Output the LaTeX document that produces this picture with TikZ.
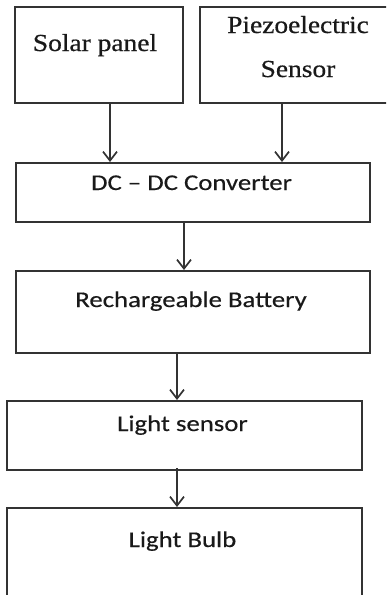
\documentclass[tikz,border=0pt]{standalone}
\usepackage{fontspec}
\setmainfont{Liberation Serif}
\newfontfamily\blockserif[FakeStretch=1.12, FakeBold=0.6]{Liberation Serif}
\newfontfamily\blocksans[FakeStretch=1.19, FakeBold=0.4]{Carlito}
\usetikzlibrary{calc, arrows.meta}
\definecolor{boxgray}{HTML}{333333}
\tikzset{
  block box/.style={draw=boxgray, line width=2pt, inner sep=0pt},
  flow arrow/.style={draw=boxgray, line width=1.7pt, -{Straight Barb[length=9pt, width=14pt, line width=1.7pt]}},
  serif label/.style={font=\blockserif\fontsize{24.5}{28}\selectfont, text=black!90, inner sep=0pt, anchor=base},
  sans label/.style={font=\blocksans\fontsize{22.5}{26}\selectfont, text=black!90, inner sep=0pt, anchor=base},
}

\begin{document}
\begin{tikzpicture}[x=1pt, y=-1pt]
  \clip (0,0) rectangle (386,595);
  % sources
  \node[block box, minimum width=168pt, minimum height=96pt] (solar) at (99,55) {};
  \node[block box, minimum width=200pt, minimum height=96pt] (piezo) at (300,55) {};
  \node[serif label] (solar-t) at (95,51) {Solar panel};
  \node[serif label] (piezo-t1) at (298,33) {Piezoelectric};
  \node[serif label] (piezo-t2) at (298,77) {Sensor};
  % chain
  \node[block box, minimum width=354pt, minimum height=59pt] (dcdc) at (193,192.5) {};
  \node[block box, minimum width=354pt, minimum height=82pt] (batt) at (193,312) {};
  \node[block box, minimum width=355pt, minimum height=69pt] (lsens) at (184.5,435.5) {};
  \node[block box, minimum width=355pt, minimum height=104pt] (bulb) at (184.5,560) {};
  \node[sans label] (dcdc-t) at (191.5,190) {DC – DC Converter};
  \node[sans label] (batt-t) at (191,307) {Rechargeable Battery};
  \node[sans label] (lsens-t) at (182.5,431) {Light sensor};
  \node[sans label] (bulb-t) at (182.5,547) {Light Bulb};
  % connectors
  \coordinate (solar-out) at ([xshift=11pt]solar.south);
  \coordinate (piezo-out) at ([xshift=-18pt]piezo.south);
  \coordinate (dcdc-out) at ([xshift=-9pt]dcdc.south);
  \coordinate (batt-out) at ([xshift=-16pt]batt.south);
  \coordinate (lsens-out) at ([xshift=-7.5pt, yshift=3pt]lsens.south);
  \draw[flow arrow] (solar-out) -- (solar-out |- dcdc.north);
  \draw[flow arrow] (piezo-out) -- (piezo-out |- dcdc.north);
  \draw[flow arrow] (dcdc-out) -- (dcdc-out |- batt.north);
  \draw[flow arrow] (batt-out) -- (batt-out |- lsens.north);
  \draw[flow arrow] (lsens-out) -- (lsens-out |- bulb.north);
\end{tikzpicture}
\end{document}
